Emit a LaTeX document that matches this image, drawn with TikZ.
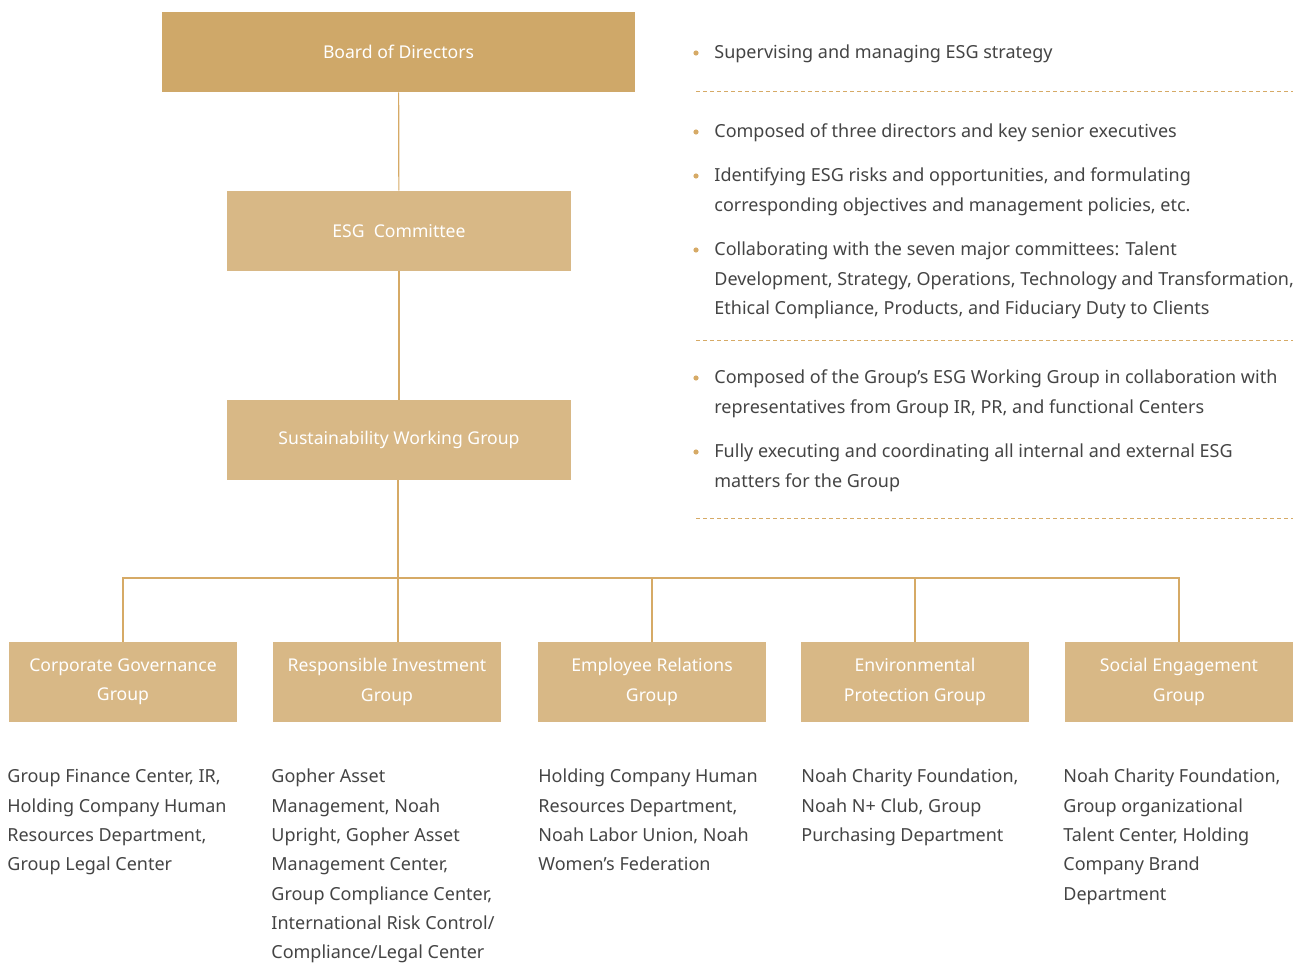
\documentclass[tikz,border=0pt]{standalone}
\usepackage{fontspec}
\setmainfont{Noto Sans}
\usepackage{tikz}
\usetikzlibrary{positioning}

\definecolor{gold}{HTML}{CFA869}
\definecolor{sand}{HTML}{D8B886}
\definecolor{linegold}{HTML}{D6AA66}
\definecolor{bodygray}{HTML}{444444}

\tikzset{
    topbox/.style={fill=gold, minimum width=236.5pt, minimum height=40pt, text=white, font=\fontsize{8.8}{14.6}\selectfont},
    midbox/.style={fill=sand, minimum width=172pt, minimum height=40pt, text=white, font=\fontsize{8.8}{14.6}\selectfont},
    groupbox/.style={fill=sand, minimum width=114pt, minimum height=40pt, text=white, align=center, font=\fontsize{8.8}{14.6}\selectfont},
    link/.style={draw=linegold, line width=0.6pt},
    sep/.style={draw=linegold, dashed, dash pattern=on 2pt off 1.5pt, line width=0.5pt},
    dot/.style={circle, fill=linegold, inner sep=0pt, minimum size=2.6pt},
    body/.style={text=bodygray, align=left, inner sep=0pt, anchor=north west, font=\fontsize{9}{14.65}\selectfont}
}

\begin{document}
\begin{tikzpicture}[x=0.5pt, y=-0.5pt]
    \useasboundingbox (0,0) rectangle (1298,963);

    % chain of command
    \node[topbox] (board) at (398.5,52) {Board of Directors};
    \node[midbox] (esg) at (399,231) {ESG\ \ Committee};
    \node[midbox] (swg) at (399,440) {Sustainability Working Group};

    % the five groups
    \node[groupbox] (cg) at (123,682) {Corporate Governance\\Group};
    \node[groupbox] (ri) at (387,682) {Responsible Investment\\Group};
    \node[groupbox] (er) at (652,682) {Employee Relations\\Group};
    \node[groupbox] (ep) at (915,682) {Environmental\\Protection Group};
    \node[groupbox] (se) at (1179,682) {Social Engagement\\Group};
    \coordinate (bus) at (398,578);

    \draw[link] (board) -- (esg);
    \draw[link] (esg) -- (swg);
    \draw[link] (swg.south -| bus) -- (ri.north -| bus);
    \draw[link] (cg.north) |- (bus) -| (se.north);
    \draw[link] (er.north) -- (er.north |- bus);
    \draw[link] (ep.north) -- (ep.north |- bus);

    % duties on the right
    \node[dot] (d1) at (696,53) {};
    \node[body] (t1) at (714,38) {\strut Supervising and managing ESG strategy};
    \draw[sep] (696,92) -- (1293,92);

    \node[dot] (d2) at (696,132) {};
    \node[body] (t2) at (714,117) {\strut Composed of three directors and key senior executives};
    \node[dot] (d3) at (696,176) {};
    \node[body] (t3) at (714,161) {\strut Identifying ESG risks and opportunities, and formulating\\corresponding objectives and management policies, etc.};
    \node[dot] (d4) at (696,250) {};
    \node[body] (t4) at (714,235) {\strut Collaborating with the seven major committees: Talent\\Development, Strategy, Operations, Technology and Transformation,\\Ethical Compliance, Products, and Fiduciary Duty to Clients};
    \draw[sep] (696,341) -- (1293,341);

    \node[dot] (d5) at (696,378) {};
    \node[body] (t5) at (714,363) {\strut Composed of the Group's ESG Working Group in collaboration with\\representatives from Group IR, PR, and functional Centers};
    \node[dot] (d6) at (696,452) {};
    \node[body] (t6) at (714,437) {\strut Fully executing and coordinating all internal and external ESG\\matters for the Group};
    \draw[sep] (696,518) -- (1293,518);

    % members of each group
    \node[body] (m1) at (7,762) {\strut Group Finance Center, IR,\\Holding Company Human\\Resources Department,\\Group Legal Center};
    \node[body] (m2) at (271,762) {\strut Gopher Asset\\Management, Noah\\Upright, Gopher Asset\\Management Center,\\Group Compliance Center,\\International Risk Control/\\Compliance/Legal Center};
    \node[body] (m3) at (538,762) {\strut Holding Company Human\\Resources Department,\\Noah Labor Union, Noah\\Women's Federation};
    \node[body] (m4) at (801,762) {\strut Noah Charity Foundation,\\Noah N+ Club, Group\\Purchasing Department};
    \node[body] (m5) at (1063,762) {\strut Noah Charity Foundation,\\Group organizational\\Talent Center, Holding\\Company Brand\\Department};
\end{tikzpicture}
\end{document}
